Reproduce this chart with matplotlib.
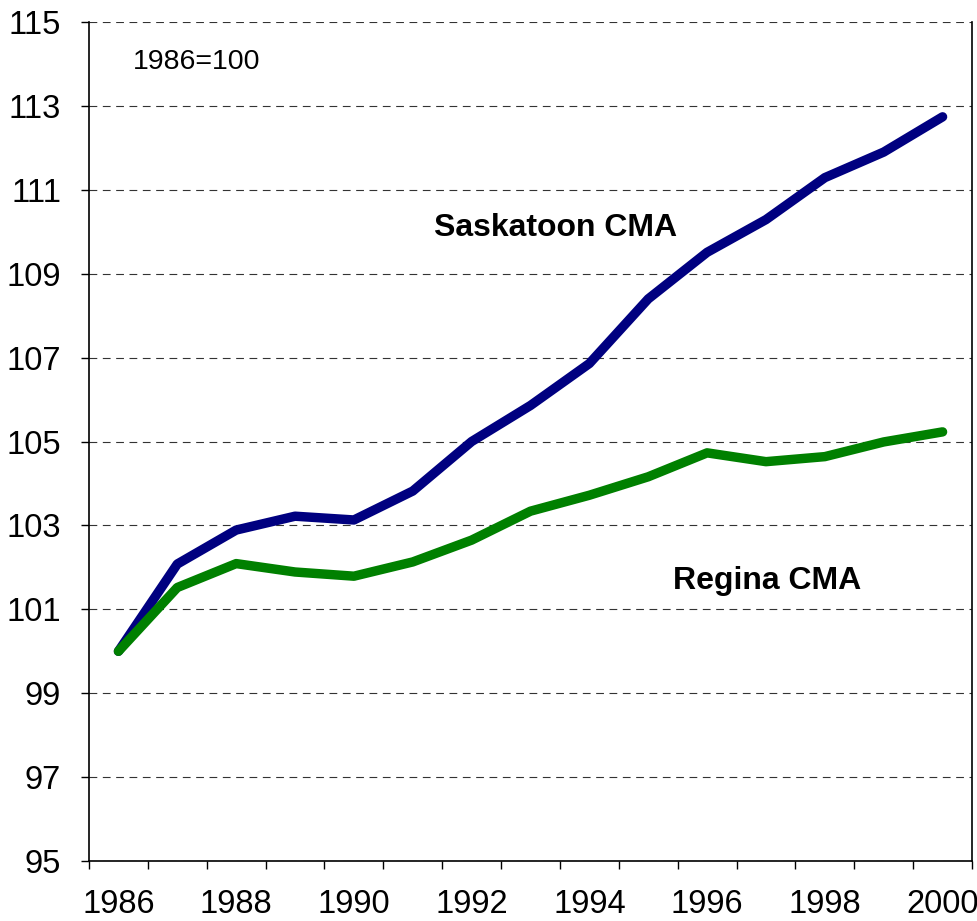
import numpy as np
import matplotlib.pyplot as plt

plt.rcParams['font.family'] = ['Liberation Sans', 'DejaVu Sans']

years = list(range(1986, 2001))
saskatoon = [100.0, 102.08, 102.89, 103.22, 103.13, 103.82, 105.0, 105.86,
             106.86, 108.40, 109.51, 110.29, 111.29, 111.90, 112.74]
regina = [100.0, 101.52, 102.09, 101.89, 101.79, 102.13, 102.65, 103.34,
          103.72, 104.16, 104.73, 104.52, 104.64, 104.99, 105.23]
y_ticks = [95, 97, 99, 101, 103, 105, 107, 109, 111, 113, 115]

fig = plt.figure(figsize=(9.77, 9.21), dpi=100)
ax = fig.add_axes([0.0911, 0.0651, 0.9038, 0.911])

x = np.arange(len(years))
ax.plot(x, saskatoon, color='#000080', lw=6.8,
        solid_capstyle='round', solid_joinstyle='round', zorder=3)
ax.plot(x, regina, color='#008000', lw=6.8,
        solid_capstyle='round', solid_joinstyle='round', zorder=3)

ax.set_xlim(-0.5, len(years) - 0.5)
ax.set_ylim(95, 115)

# category axis: tick marks on boundaries, labels on every second category
ax.set_xticks(np.arange(-0.5, len(years), 1))
ax.set_xticklabels([])
ax.set_xticks(x[::2], minor=True)
ax.set_xticklabels([str(y) for y in years[::2]], minor=True, fontsize=23.5)
ax.tick_params(axis='x', which='major', length=6, width=1, direction='out')
ax.tick_params(axis='x', which='minor', length=0, pad=20)

ax.set_yticks(y_ticks)
ax.set_yticklabels([str(v) for v in y_ticks], fontsize=23.5)
ax.tick_params(axis='y', length=6, width=1, direction='out', pad=14)

ax.yaxis.grid(True, linestyle=(0, (7, 5)), linewidth=0.8, color='#333333')
ax.set_axisbelow(True)

ax.spines['top'].set_visible(False)
for s in ['left', 'bottom', 'right']:
    ax.spines[s].set_linewidth(1.2)

fig.text(133 / 977, 1 - 62 / 921, '1986=100', fontsize=20.5, va='center', ha='left')
ax.text(7.42, 110.1, 'Saskatoon CMA', fontsize=23, fontweight='bold', ha='center', va='center')
ax.text(11.02, 101.68, 'Regina CMA', fontsize=23, fontweight='bold', ha='center', va='center')

fig.savefig('out.png', dpi=100)
